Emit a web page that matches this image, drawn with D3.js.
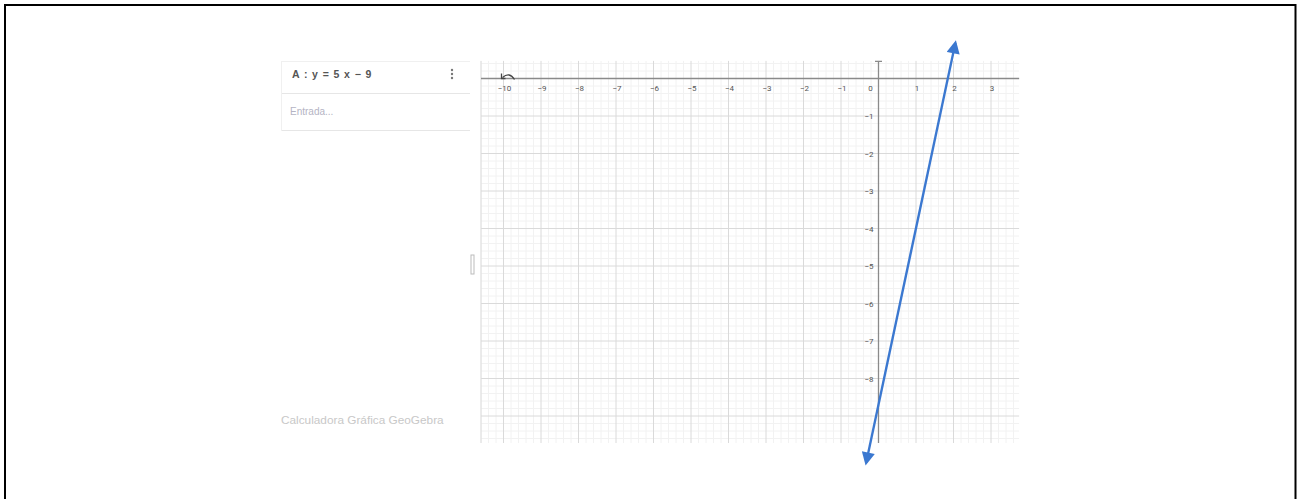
<!DOCTYPE html>
<html><head><meta charset="utf-8">
<script src="https://cdn.jsdelivr.net/npm/d3@7"></script>
<style>html,body{margin:0;padding:0;background:#fff;overflow:hidden}</style>
</head><body>
<svg id="c" width="1305" height="499"></svg>
<script>
// Data
const xTicks = [-10,-9,-8,-7,-6,-5,-4,-3,-2,-1,0,1,2,3];
const yTicks = [-1,-2,-3,-4,-5,-6,-7,-8];
const xView = [-10.6, 3.75];
const yView = [0.47, -9.72];
const lineStart = [-0.33, -10.25];
const lineEnd = [2.05, 0.95];
const equation = "A : y = 5 x − 9";
const inputHint = "Entrada...";
const footer = "Calculadora Gráfica GeoGebra";

const svg = d3.select("#c");
const x = d3.scaleLinear().domain([-10, 3]).range([503.5, 991]);
const y = d3.scaleLinear().domain([0, -9]).range([78.5, 416]);

// outer frame
svg.append("path").attr("d","M5,505 V5 H1295.5 V505").attr("fill","none").attr("stroke","#000").attr("stroke-width",2);

const gx0 = x(xView[0]), gx1 = x(xView[1]), gy0 = y(yView[0]), gy1 = y(yView[1]);
const g = svg.append("g");
// minor grid
const minorX = d3.range(Math.ceil(xView[0]*5), Math.floor(xView[1]*5)+1).map(d=>d/5).filter(d=>Math.abs(d-Math.round(d))>1e-6);
const minorY = d3.range(Math.ceil(yView[1]*5), Math.floor(yView[0]*5)+1).map(d=>d/5).filter(d=>Math.abs(d-Math.round(d))>1e-6);
g.selectAll(".mx").data(minorX).join("line").attr("x1",d=>x(d)).attr("x2",d=>x(d)).attr("y1",gy0).attr("y2",gy1).attr("stroke","#f2f2f2").attr("stroke-width",1);
g.selectAll(".my").data(minorY).join("line").attr("y1",d=>y(d)).attr("y2",d=>y(d)).attr("x1",gx0).attr("x2",gx1).attr("stroke","#f2f2f2").attr("stroke-width",1);
// major grid
const majorX = d3.range(Math.ceil(xView[0]), Math.floor(xView[1])+1);
const majorY = d3.range(Math.ceil(yView[1]), Math.floor(yView[0])+1);
g.selectAll(".Mx").data(majorX).join("line").attr("x1",d=>x(d)).attr("x2",d=>x(d)).attr("y1",gy0).attr("y2",gy1).attr("stroke","#dadada").attr("stroke-width",1);
g.selectAll(".My").data(majorY).join("line").attr("y1",d=>y(d)).attr("y2",d=>y(d)).attr("x1",gx0).attr("x2",gx1).attr("stroke","#dadada").attr("stroke-width",1);
// left edge of graphics
g.append("line").attr("x1",gx0).attr("x2",gx0).attr("y1",gy0).attr("y2",gy1).attr("stroke","#dcdcdc");
// axes
g.append("line").attr("x1",gx0).attr("x2",gx1).attr("y1",y(0)).attr("y2",y(0)).attr("stroke","#8a8a8a").attr("stroke-width",1.3);
g.append("line").attr("x1",x(0)).attr("x2",x(0)).attr("y1",gy0).attr("y2",gy1).attr("stroke","#8a8a8a").attr("stroke-width",1.3);
g.append("line").attr("x1",x(0)-3.5).attr("x2",x(0)+3.5).attr("y1",gy0+0.5).attr("y2",gy0+0.5).attr("stroke","#8a8a8a").attr("stroke-width",1.3);
// tick labels
const fmt = d => d < 0 ? "−" + Math.abs(d) : String(d);
g.selectAll(".xl").data(xTicks).join("text").attr("x",d=>d===0 ? x(0)-8 : x(d)+1).attr("y",y(0)+12)
  .attr("text-anchor","middle").attr("font-family","Roboto, 'Noto Sans', sans-serif").attr("font-size",8).attr("fill","#555").text(fmt);
g.selectAll(".yl").data(yTicks).join("text").attr("x",x(0)-5).attr("y",d=>y(d)+3)
  .attr("text-anchor","end").attr("font-family","Roboto, 'Noto Sans', sans-serif").attr("font-size",8).attr("fill","#555").text(fmt);
// undo-like icon
g.append("path").attr("d",`M${x(-10)-1},${y(0)-1} q7,-6 12,2`).attr("fill","none").attr("stroke","#444").attr("stroke-width",1.3);
g.append("path").attr("d",`M${x(-10)-2},${y(0)-5} l0,5 l4,0`).attr("fill","none").attr("stroke","#444").attr("stroke-width",1.3);

// algebra panel
const p = svg.append("g").attr("font-family","'Liberation Sans', Arial, sans-serif");
p.append("line").attr("x1",282).attr("x2",470).attr("y1",61.5).attr("y2",61.5).attr("stroke","#f0f0f0");
p.append("line").attr("x1",282).attr("x2",470).attr("y1",93.5).attr("y2",93.5).attr("stroke","#e6e6e6");
p.append("line").attr("x1",282).attr("x2",470).attr("y1",130.5).attr("y2",130.5).attr("stroke","#e6e6e6");
p.append("line").attr("x1",281.5).attr("x2",281.5).attr("y1",61).attr("y2",131).attr("stroke","#f0f0f0");
p.append("text").attr("x",292).attr("y",78).attr("font-size",10.5).attr("font-weight","bold").attr("fill","#555").attr("letter-spacing",0.9).text(equation);
p.selectAll(".dot").data([0,1,2]).join("circle").attr("cx",452).attr("cy",d=>70+d*4).attr("r",1.2).attr("fill","#777");
p.append("text").attr("x",290).attr("y",115).attr("font-size",10).attr("fill","#b4b4c4").text(inputHint);
p.append("text").attr("x",281).attr("y",424).attr("font-size",11.8).attr("fill","#c8c8c8").text(footer);
p.append("rect").attr("x",471).attr("y",255).attr("width",3).attr("height",19).attr("fill","none").attr("stroke","#bbb").attr("stroke-width",1);

// line with arrows
const defs = svg.append("defs");
defs.append("marker").attr("id","ah").attr("viewBox","0 0 10 10").attr("refX",8).attr("refY",5)
  .attr("markerWidth",6).attr("markerHeight",5.5).attr("orient","auto-start-reverse").attr("markerUnits","strokeWidth")
  .append("path").attr("d","M0,0 L10,5 L0,10 z").attr("fill","#3b78d0");
svg.append("line").attr("x1",x(lineStart[0])).attr("y1",y(lineStart[1])).attr("x2",x(lineEnd[0])).attr("y2",y(lineEnd[1]))
  .attr("stroke","#3b78d0").attr("stroke-width",2.4).attr("marker-start","url(#ah)").attr("marker-end","url(#ah)");
</script>
</body></html>
